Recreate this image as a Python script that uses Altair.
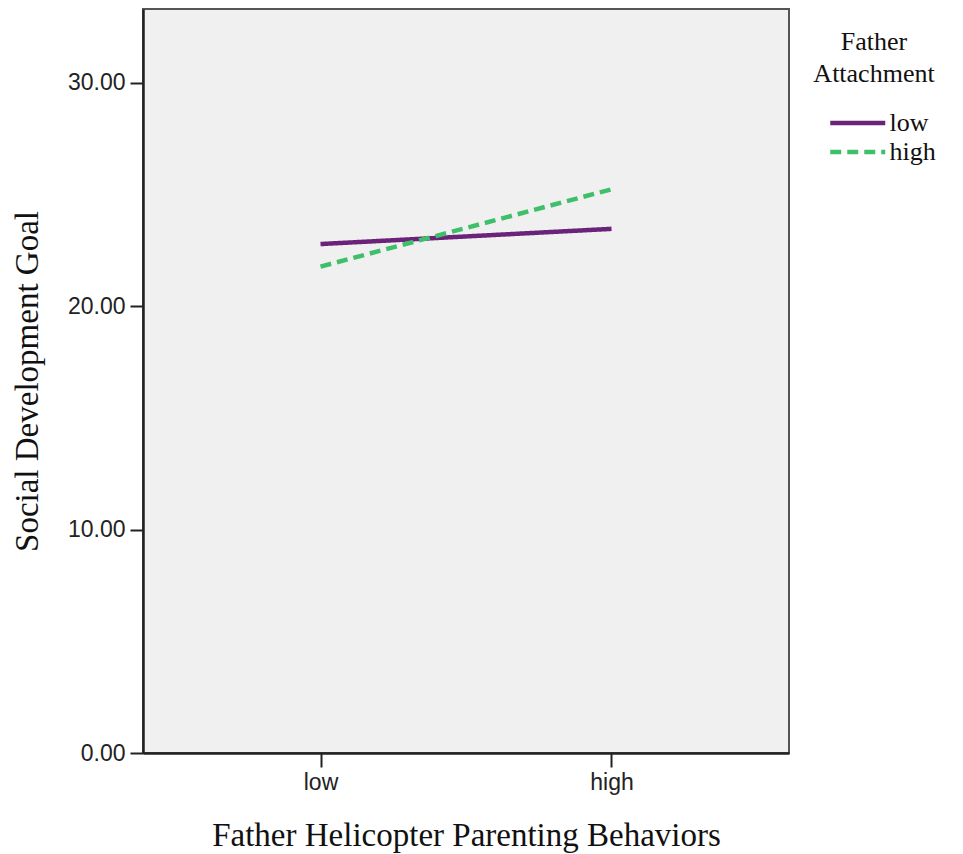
import altair as alt
import pandas as pd

x_levels = ["low", "high"]
series_names = ["low", "high"]
low_attachment = [22.78, 23.46]
high_attachment = [21.77, 25.23]

rows = []
for s, vals in zip(series_names, [low_attachment, high_attachment]):
    for xl, v in zip(x_levels, vals):
        rows.append({"helicopter": xl, "attachment": s, "goal": v})
df = pd.DataFrame(rows)

serif = "Liberation Serif"
sans = "Liberation Sans"

chart = alt.Chart(df).mark_line(strokeWidth=4.5).encode(
    x=alt.X("helicopter:N", sort=x_levels,
            scale=alt.Scale(type="point", padding=0.61),
            axis=alt.Axis(title="Father Helicopter Parenting Behaviors",
                          labelAngle=0, labelFont=sans, labelFontSize=23,
                          labelColor="#222", labelPadding=4,
                          tickSize=14, tickColor="#222", tickWidth=2,
                          domainColor="#222", domainWidth=2.5,
                          titleFont=serif, titleFontSize=33, titleFontWeight="normal",
                          titleColor="#111", titleBaseline="alphabetic", titleY=92)),
    y=alt.Y("goal:Q",
            scale=alt.Scale(domain=[0, 33.3], nice=False, zero=True),
            axis=alt.Axis(title="Social Development Goal", values=[0, 10, 20, 30],
                          format=".2f", labelFont=sans, labelFontSize=23,
                          labelColor="#222", labelPadding=5,
                          tickSize=13, tickColor="#222", tickWidth=2,
                          domainColor="#222", domainWidth=2.5, grid=False,
                          titleFont=serif, titleFontSize=33, titleFontWeight="normal",
                          titleColor="#111", titleBaseline="middle", titleX=-116)),
    color=alt.Color("attachment:N", sort=series_names,
                    scale=alt.Scale(domain=series_names, range=["#6a2379", "#3fbf6a"]),
                    legend=alt.Legend(title=["Father", "Attachment"], orient="none",
                                      legendX=670, legendY=20,
                                      titleFont=serif, titleFontSize=26,
                                      titleFontWeight="normal", titleColor="#111",
                                      titleAlign="center", titleAnchor="middle",
                                      titleLineHeight=32, titlePadding=20,
                                      labelFont=serif, labelFontSize=26, labelColor="#111",
                                      labelOffset=2, symbolOffset=42.5,
                                      symbolType="M-3,0L1,0", symbolSize=756,
                                      symbolStrokeWidth=4.5, rowPadding=0)),
    strokeDash=alt.StrokeDash("attachment:N", sort=series_names,
                              scale=alt.Scale(domain=series_names, range=[[1, 0], [11, 6]]),
                              legend=None),
).properties(
    width=646, height=744,
    background="white",
    autosize=alt.AutoSizeParams(type="none"),
    padding={"left": 135, "top": 1, "right": 166, "bottom": 110},
).configure_view(
    fill="#f0f0f0", stroke="#555", strokeWidth=2
)

chart.save("out.html", embed_options={"renderer": "svg", "actions": False})
